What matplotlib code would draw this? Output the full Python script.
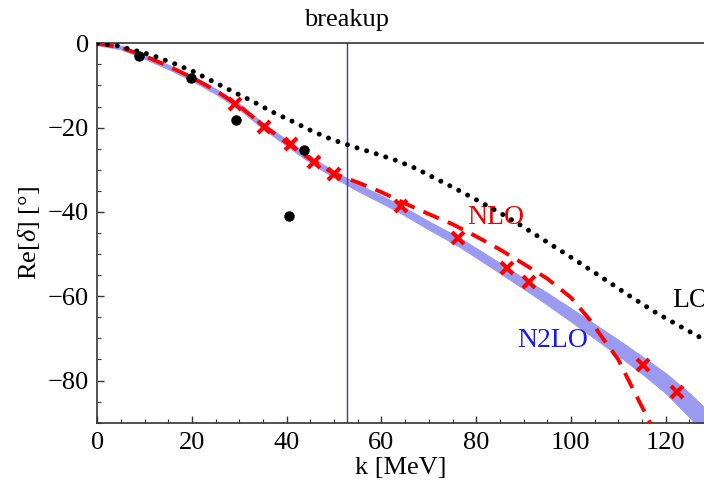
import matplotlib
matplotlib.use("Agg")
import matplotlib.pyplot as plt
import numpy as np

plt.rcParams['font.family'] = ['Liberation Serif', 'DejaVu Serif']
plt.rcParams['mathtext.fontset'] = 'custom'
plt.rcParams['mathtext.rm'] = 'Liberation Serif'
plt.rcParams['mathtext.it'] = 'Liberation Serif:italic'

# N2LO band (momentum k in MeV, phase in degrees)
n2lo_k = [0, 5, 10, 15, 20, 25, 30, 35, 40, 45, 50, 55, 60, 64.3, 70, 76.2,
          80, 86.5, 91, 95, 100, 105, 110, 115, 120, 125, 128.5]
n2lo_center = [0, -1.0, -3.2, -5.6, -8.3, -11.4, -15.0, -19.6, -23.6, -27.6,
               -31.1, -34.2, -37.0, -39.5, -43.2, -47.0, -49.7, -54.4, -57.7,
               -60.6, -64.4, -68.3, -72.2, -76.3, -80.6, -85.8, -90.0]
n2lo_halfwidth = [0.45, 0.45, 0.5, 0.55, 0.6, 0.65, 0.7, 0.7, 0.75, 0.75, 0.8,
                  0.85, 0.9, 0.95, 1.0, 1.1, 1.15, 1.25, 1.3, 1.45, 1.6, 1.75,
                  1.9, 2.1, 2.4, 2.9, 3.3]

# NLO curve
nlo_k = [0, 5, 10, 15, 20, 25, 30, 35, 40, 45, 50, 55, 60, 65, 70, 75, 80, 85,
         90, 95, 100, 104, 107, 110, 113, 116.4, 117.5]
nlo_phase = [0, -1.0, -3.0, -5.4, -8.1, -11.2, -14.9, -19.4, -23.6, -27.5,
             -30.9, -33.0, -35.3, -38.0, -40.5, -42.9, -45.8, -48.9, -52.3,
             -55.8, -60.3, -65.6, -70.4, -75.0, -81.8, -89.3, -92.0]

# LO curve
lo_k = [0, 4.4, 11.5, 16, 20.3, 24.5, 28.7, 32.9, 36.8, 41, 45.3, 49.5, 54,
        58.6, 62.9, 67.1, 71.3, 75.5, 80, 85, 89.3, 95.6, 101.2, 106.9, 112.5,
        118.1, 123.8, 128.5]
lo_phase = [0, -0.6, -2.8, -4.7, -6.7, -9.1, -11.5, -13.8, -16.2, -18.4,
            -20.8, -22.8, -24.5, -26.1, -27.7, -29.6, -32.0, -34.4, -37.1,
            -40.2, -43.1, -47.6, -51.6, -55.8, -60.0, -64.0, -67.6, -70.5]

# Crosses
cross_k = [29.0, 35.2, 40.8, 45.8, 50.05, 64.1, 76.2, 86.5, 91.1, 115.2, 122.4]
cross_phase = [-14.4, -19.9, -24.0, -28.1, -30.9, -38.7, -46.2, -53.2, -56.5,
               -76.2, -82.7]

# Dots
dot_k = [8.9, 19.7, 29.3, 43.6, 40.5]
dot_phase = [-2.9, -8.3, -18.3, -25.3, -40.9]

breakup_k = 52.7

fig = plt.figure(figsize=(7.04, 4.83), dpi=100)
ax = fig.add_axes([0.1382, 0.1248, 0.8618, 0.7855])

c = np.array(n2lo_center)
hw = np.array(n2lo_halfwidth)
ax.fill_between(n2lo_k, c - hw, c + hw, color='#9a9af0', lw=0.6,
                edgecolor='#9a9af0', zorder=1)

ax.plot(nlo_k, nlo_phase, color='#ff0000', lw=2.8,
        linestyle=(0, (4.3, 2.5)), zorder=3)
ax.plot(lo_k, lo_phase, color='black', lw=3.6,
        linestyle=(0, (0.01, 2.0)), dash_capstyle='round', zorder=4)
ax.plot(cross_k, cross_phase, linestyle='none', marker='x', ms=8.5, mew=3,
        color='#ff0000', zorder=5)
ax.plot(dot_k, dot_phase, linestyle='none', marker='o', ms=6.5,
        color='black', zorder=5)

ax.axvline(breakup_k, color='#3c3c90', lw=1.0, zorder=2)

ax.text(breakup_k, 3.0, 'breakup', ha='center', va='bottom', fontsize=19)
ax.text(78.0, -41.4, 'NLO', color='#ee0000', fontsize=20, va='center')
ax.text(121.4, -60.9, 'LO', color='black', fontsize=20, va='center',
        clip_on=False)
ax.text(88.6, -70.4, 'N2LO', color='#1a1aee', fontsize=20, va='center')

ax.set_xlim(0, 128.1)
ax.set_ylim(-90, 0)
ax.set_xticks([0, 20, 40, 60, 80, 100, 120])
ax.set_yticks([0, -20, -40, -60, -80])
ax.set_xticks(np.arange(0, 128, 5), minor=True)
ax.set_yticks(np.arange(-90, 1, 5), minor=True)
ax.tick_params(which='both', direction='in', top=False, right=False,
               labelsize=19, color='#333333')
ax.tick_params(which='major', length=5, width=1)
ax.tick_params(which='minor', length=3, width=0.8)
ax.tick_params(axis='x', pad=7)
ax.tick_params(axis='y', pad=6)
for s in ['left', 'bottom', 'top']:
    ax.spines[s].set_color('#333333')
    ax.spines[s].set_linewidth(1.2)
ax.spines['right'].set_visible(False)

ax.set_xlabel('k [MeV]', fontsize=19, labelpad=2)
ax.set_ylabel(r'Re[$\delta$] [°]', fontsize=19, labelpad=4)

fig.savefig('out.png', dpi=100)
